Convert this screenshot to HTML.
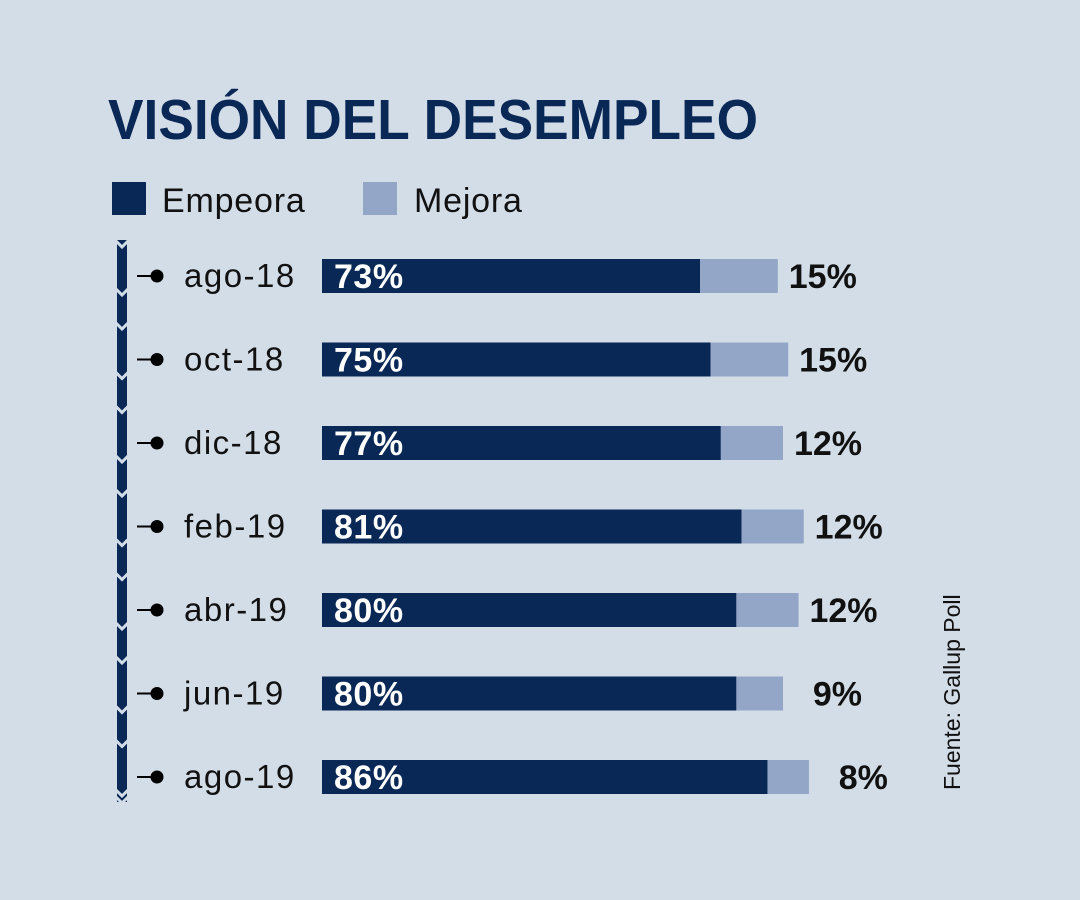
<!DOCTYPE html>
<html><head><meta charset="utf-8"><style>
html,body{margin:0;padding:0;background:#d3dde8;}
svg{display:block;font-family:"Liberation Sans",sans-serif;}
</style></head><body>
<svg id="chart" width="1080" height="900" viewBox="0 0 1080 900">
<rect width="1080" height="900" fill="#d3dde8"/>
<text x="108" y="139" font-size="57" font-weight="bold" fill="#0a2856" textLength="650" lengthAdjust="spacingAndGlyphs">VISIÓN DEL DESEMPLEO</text>
<g>
<rect x="112" y="182" width="34" height="33" fill="#0a2856"/>
<text x="162" y="212" font-size="34" fill="#111" letter-spacing="0.8">Empeora</text>
<rect x="363" y="182" width="34" height="33" fill="#94a6c8"/>
<text x="414" y="212" font-size="34" fill="#111" letter-spacing="0.8">Mejora</text>
</g>
<g id="timeline"></g>
<g id="bars"></g>
<text transform="translate(960,790) rotate(-90)" font-size="23" fill="#111">Fuente: Gallup Poll</text>
</svg>
<script>
const categories = ["ago-18","oct-18","dic-18","feb-19","abr-19","jun-19","ago-19"];
const empeora = [73,75,77,81,80,80,86];
const mejora = [15,15,12,12,12,9,8];

const NS = "http://www.w3.org/2000/svg";
const x0 = 322, pxPer = 5.18, rowTop = 276, rowStep = 83.5, barH = 34;
const xs = v => x0 + v * pxPer;
const ys = i => rowTop + i * rowStep;
function mk(tag, attrs, parent){ const e = document.createElementNS(NS, tag); for (const k in attrs) e.setAttribute(k, attrs[k]); parent.appendChild(e); return e; }

const tl = document.getElementById('timeline');
const axis = mk('rect', {x:117, y:240, width:10, height:562, fill:'#0a2856'}, tl);


const notchYs = [240];
categories.forEach((c,i)=>{ notchYs.push(ys(i)+12); if (i < categories.length-1) notchYs.push(ys(i)+46); });
notchYs.push(796);
notchYs.forEach(y=>{
  const n = mk('polyline', {points:`115,${y} 122,${y+7} 129,${y}`, fill:'none', stroke:'#d3dde8', 'stroke-width':3}, tl);
  
  
});

const bars = document.getElementById('bars');
categories.forEach((c,i)=>{
  const cy = ys(i);
  const g = mk('g', {}, bars);
  
  
  const ln = mk('line', {x1:137, y1:cy, x2:152, y2:cy, stroke:'#000', 'stroke-width':2}, g);
  
  
  const dot = mk('circle', {cx:157, cy:cy, r:6.5, fill:'#000'}, g);
  
  
  const lab = mk('text', {x:184, y:cy+11, 'font-size':33, 'letter-spacing':1.5, fill:'#111'}, g);
  lab.textContent = c;
  
  
  const e = mk('rect', {x:xs(0), y:cy-17, width:xs(empeora[i])-xs(0), height:barH, fill:'#0a2856'}, g);
  
  
  const m = mk('rect', {x:xs(empeora[i]), y:cy-17, width:xs(empeora[i]+mejora[i])-xs(empeora[i]), height:barH, fill:'#94a6c8'}, g);
  
  
  const ev = mk('text', {x:334, y:cy+12, 'font-size':34, 'letter-spacing':0.5, 'font-weight':'bold', fill:'#fff'}, g);
  ev.textContent = empeora[i] + '%';
  
  
  const mv = mk('text', {x:xs(empeora[i]+mejora[i])+79, y:cy+12, 'font-size':34, 'font-weight':'bold', fill:'#111', 'text-anchor':'end'}, g);
  mv.textContent = mejora[i] + '%';
  
  
});
</script>
</body></html>
